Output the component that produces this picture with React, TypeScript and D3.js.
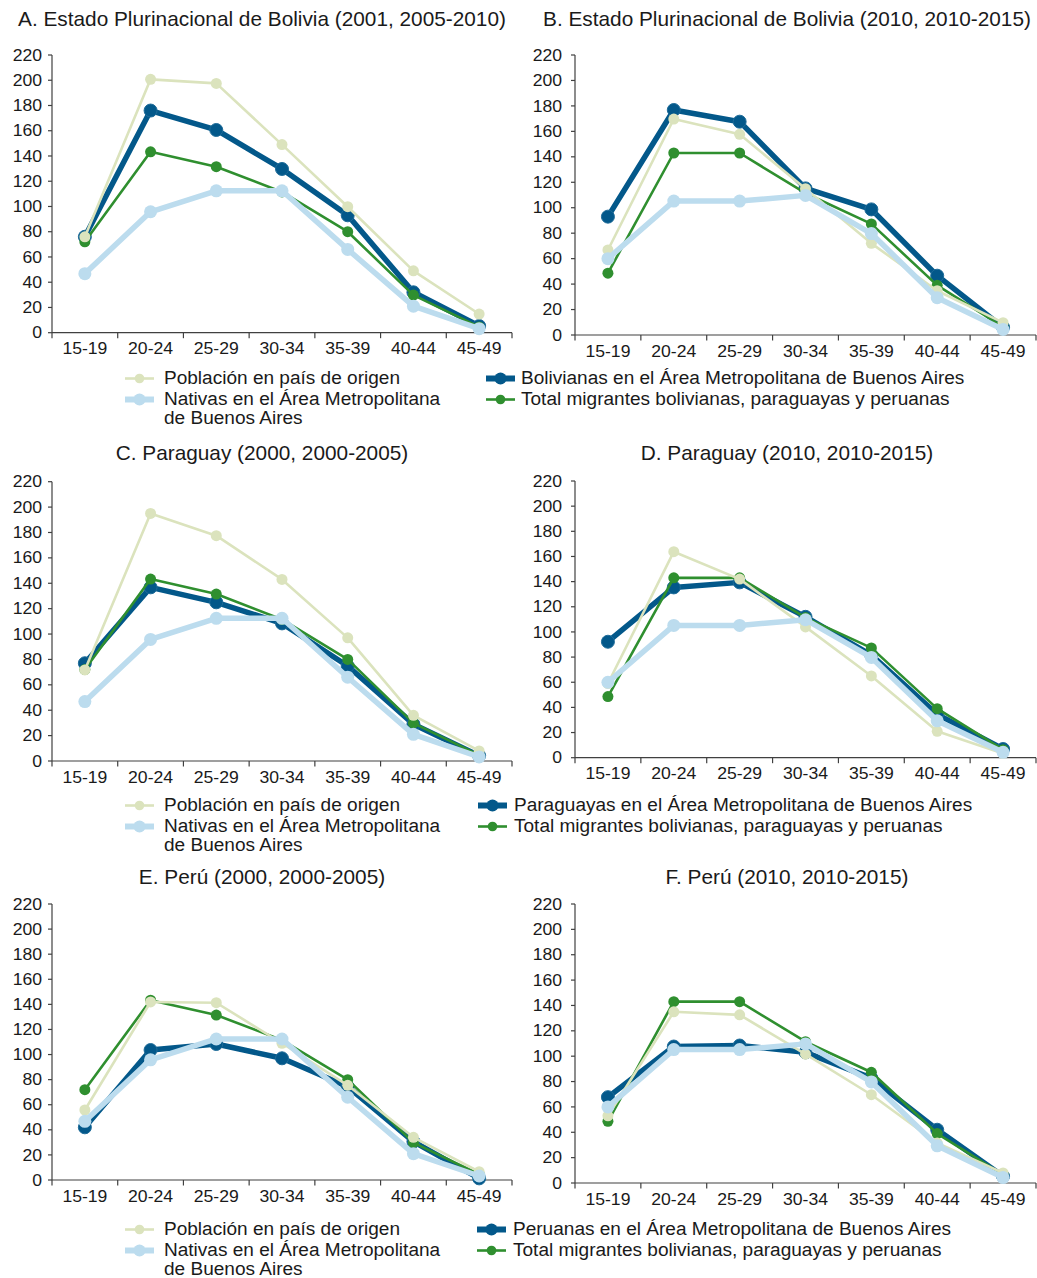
import React from "react";
import * as d3 from "d3";

// ---------- data ----------
const AGE_GROUPS = ["15-19", "20-24", "25-29", "30-34", "35-39", "40-44", "45-49"];
const Y_TICKS = [0, 20, 40, 60, 80, 100, 120, 140, 160, 180, 200, 220];

// shared series (native women and total migrants)
const NATIVAS_2000 = [46.8, 95.8, 112.4, 112.4, 66, 21, 3.2];
const TOTAL_2000 = [72, 143.3, 131.5, 111.5, 80, 29.8, 4.6];
const NATIVAS_2010 = [60, 105.2, 105.2, 109.7, 79.7, 29.3, 4.3];
const TOTAL_2010 = [48.6, 143, 143, 111.4, 87.3, 39, 6.4];

// country of origin
const ORIGEN_A = [76, 200.7, 197.5, 149, 99.8, 49, 14.8];
const ORIGEN_B = [66.8, 169.7, 157.7, 115, 72, 34.8, 9.7];
const ORIGEN_C = [71.7, 195, 177.5, 143, 97, 36, 7.9];
const ORIGEN_D = [59, 163.8, 142, 104, 65, 21, 3.4];
const ORIGEN_E = [55.8, 141.9, 141.3, 109, 75.5, 34, 6.6];
const ORIGEN_F = [53, 135, 132.6, 101.6, 69.6, 31.5, 7.9];

// migrants of the country living in AMBA
const AMBA_A = [76, 176, 160.6, 129.7, 93, 32, 5.3];
const AMBA_B = [93, 176.8, 167.6, 115.2, 98.7, 46.6, 6];
const AMBA_C = [77, 136.8, 125, 108.4, 74.8, 29, 4.2];
const AMBA_D = [92.2, 135.4, 139.4, 112, 81.6, 34.5, 6.9];
const AMBA_E = [42, 103.6, 108.4, 97, 74.4, 30.6, 1.3];
const AMBA_F = [67.7, 107.6, 108.4, 103, 82.7, 42, 5.3];

const TITLES = [
  "A. Estado Plurinacional de Bolivia (2001, 2005-2010)",
  "B. Estado Plurinacional de Bolivia (2010, 2010-2015)",
  "C. Paraguay (2000, 2000-2005)",
  "D. Paraguay (2010, 2010-2015)",
  "E. Perú (2000, 2000-2005)",
  "F. Perú (2010, 2010-2015)",
];

const LEGEND_ORIGEN = "Población en país de origen";
const LEGEND_NATIVAS = ["Nativas en el Área Metropolitana", "de Buenos Aires"];
const LEGEND_TOTAL = "Total migrantes bolivianas, paraguayas y peruanas";
const LEGEND_AMBA = [
  "Bolivianas en el Área Metropolitana de Buenos Aires",
  "Paraguayas en el Área Metropolitana de Buenos Aires",
  "Peruanas en el Área Metropolitana de Buenos Aires",
];

// ---------- styles ----------
const FONT = "'Liberation Sans', Arial, Helvetica, sans-serif";
const TEXT = "#1a1a1a";
const AXIS = "#404040";

const STYLE = {
  amba: { color: "#03588a", width: 5.5, r: 6.5, stroke: "#1f6c99" },
  total: { color: "#2f8f2f", width: 2.6, r: 5.5, stroke: "none" },
  origen: { color: "#dbe3bd", width: 2.6, r: 5.5, stroke: "none" },
  nativas: { color: "#bcdcee", width: 5.5, r: 6.5, stroke: "none" },
};

type Panel = {
  title: string;
  x0: number; x1: number; yTop: number; yBottom: number; titleY: number; titleX: number; labelX: number;
  origen: number[]; amba: number[]; nativas: number[]; total: number[];
};

const L = { x0: 52, x1: 512, titleX: 262, labelX: 42 };
const R = { x0: 575, x1: 1036, titleX: 787, labelX: 562 };

const PANELS: Panel[] = [
  { title: TITLES[0], ...L, yTop: 55, yBottom: 332.7, titleY: 26, origen: ORIGEN_A, amba: AMBA_A, nativas: NATIVAS_2000, total: TOTAL_2000 },
  { title: TITLES[1], ...R, yTop: 55, yBottom: 335, titleY: 26, origen: ORIGEN_B, amba: AMBA_B, nativas: NATIVAS_2010, total: TOTAL_2010 },
  { title: TITLES[2], ...L, yTop: 481.7, yBottom: 761, titleY: 460, origen: ORIGEN_C, amba: AMBA_C, nativas: NATIVAS_2000, total: TOTAL_2000 },
  { title: TITLES[3], ...R, yTop: 481, yBottom: 757.7, titleY: 460, origen: ORIGEN_D, amba: AMBA_D, nativas: NATIVAS_2010, total: TOTAL_2010 },
  { title: TITLES[4], ...L, yTop: 904, yBottom: 1180, titleY: 884, origen: ORIGEN_E, amba: AMBA_E, nativas: NATIVAS_2000, total: TOTAL_2000 },
  { title: TITLES[5], ...R, yTop: 904, yBottom: 1183, titleY: 884, origen: ORIGEN_F, amba: AMBA_F, nativas: NATIVAS_2010, total: TOTAL_2010 },
];

const LEGENDS = [
  { y: 384, rightMarkerX: 486, rightTextX: 521, amba: LEGEND_AMBA[0] },
  { y: 811, rightMarkerX: 478, rightTextX: 514, amba: LEGEND_AMBA[1] },
  { y: 1235, rightMarkerX: 477, rightTextX: 513, amba: LEGEND_AMBA[2] },
];

function ChartPanel({ p }: { p: Panel }) {
  const x = d3.scaleBand<string>().domain(AGE_GROUPS).range([p.x0, p.x1]).padding(0);
  const y = d3.scaleLinear().domain([0, 220]).range([p.yBottom, p.yTop]);
  const cx = (c: string) => (x(c) as number) + x.bandwidth() / 2;
  const line = d3
    .line<number>()
    .x((_, i) => cx(AGE_GROUPS[i]))
    .y((v) => y(v));

  const order: (keyof typeof STYLE)[] = ["amba", "total", "origen", "nativas"];
  const boundaries = [...AGE_GROUPS.map((c) => x(c) as number), p.x1];

  return (
    <g>
      <text x={p.titleX} y={p.titleY} textAnchor="middle" fontSize={20.8} fill={TEXT} fontFamily={FONT}>
        {p.title}
      </text>
      {/* y axis */}
      <line x1={p.x0} x2={p.x0} y1={y(220)} y2={y(0)} stroke={AXIS} strokeWidth={1.2} />
      {Y_TICKS.map((t) => (
        <g key={t}>
          <line x1={p.x0 - 4} x2={p.x0} y1={y(t)} y2={y(t)} stroke={AXIS} strokeWidth={1.2} />
          <text
            transform={`translate(${p.labelX},${y(t) + 5.6}) scale(1.1,1)`}
            textAnchor="end"
            fontSize={16}
            fill={TEXT}
            fontFamily={FONT}
          >
            {t}
          </text>
        </g>
      ))}
      {/* x axis */}
      <line x1={p.x0} x2={p.x1} y1={y(0)} y2={y(0)} stroke={AXIS} strokeWidth={1.2} />
      {boundaries.map((b, i) => (
        <line key={i} x1={b} x2={b} y1={y(0)} y2={y(0) + 5.5} stroke={AXIS} strokeWidth={1.2} />
      ))}
      {AGE_GROUPS.map((c) => (
        <text
          key={c}
          transform={`translate(${cx(c)},${y(0) + 21.5}) scale(1.1,1)`}
          textAnchor="middle"
          fontSize={16}
          fill={TEXT}
          fontFamily={FONT}
        >
          {c}
        </text>
      ))}
      {order.map((k) => {
        const s = STYLE[k];
        const vals = p[k] as number[];
        return (
          <g key={k}>
            <path d={line(vals) || ""} fill="none" stroke={s.color} strokeWidth={s.width} strokeLinejoin="round" />
            {vals.map((v, i) => (
              <circle
                key={i}
                cx={cx(AGE_GROUPS[i])}
                cy={y(v)}
                r={s.r}
                fill={s.color}
                stroke={s.stroke}
                strokeWidth={s.stroke === "none" ? 0 : 1}
              />
            ))}
          </g>
        );
      })}
    </g>
  );
}

function Marker({ x, y, k }: { x: number; y: number; k: keyof typeof STYLE }) {
  const s = STYLE[k];
  const thick = s.width > 4;
  return (
    <g>
      <line x1={x} x2={x + 29} y1={y} y2={y} stroke={s.color} strokeWidth={thick ? 6 : 2.6} />
      <circle cx={x + 14.5} cy={y} r={thick ? 6 : 4.8} fill={s.color} />
    </g>
  );
}

function LText({ x, y, children }: { x: number; y: number; children: string }) {
  return <text transform={`translate(${x},${y}) scale(1.07,1)`}>{children}</text>;
}

function Legend({ l }: { l: (typeof LEGENDS)[number] }) {
  const leftMarkerX = 125;
  const leftTextX = 164;
  const fs = 17.8;
  const r1 = l.y;
  const r2 = l.y + 21;
  const r3 = l.y + 40;
  const my = -5.5;
  return (
    <g fontFamily={FONT} fontSize={fs} fill={TEXT}>
      <Marker x={leftMarkerX} y={r1 + my} k="origen" />
      <LText x={leftTextX} y={r1}>{LEGEND_ORIGEN}</LText>
      <Marker x={leftMarkerX} y={r2 + my} k="nativas" />
      <LText x={leftTextX} y={r2}>{LEGEND_NATIVAS[0]}</LText>
      <LText x={leftTextX} y={r3}>{LEGEND_NATIVAS[1]}</LText>
      <Marker x={l.rightMarkerX} y={r1 + my} k="amba" />
      <LText x={l.rightTextX} y={r1}>{l.amba}</LText>
      <Marker x={l.rightMarkerX} y={r2 + my} k="total" />
      <LText x={l.rightTextX} y={r2}>{LEGEND_TOTAL}</LText>
    </g>
  );
}

export default function App() {
  return (
    <svg
      width={1037}
      height={1278}
      style={{ position: "absolute", left: 0, top: 0, background: "#fff" }}
      xmlns="http://www.w3.org/2000/svg"
    >
      <rect x={0} y={0} width={1037} height={1278} fill="#fff" />
      {PANELS.map((p, i) => (
        <ChartPanel key={i} p={p} />
      ))}
      {LEGENDS.map((l, i) => (
        <Legend key={i} l={l} />
      ))}
    </svg>
  );
}
